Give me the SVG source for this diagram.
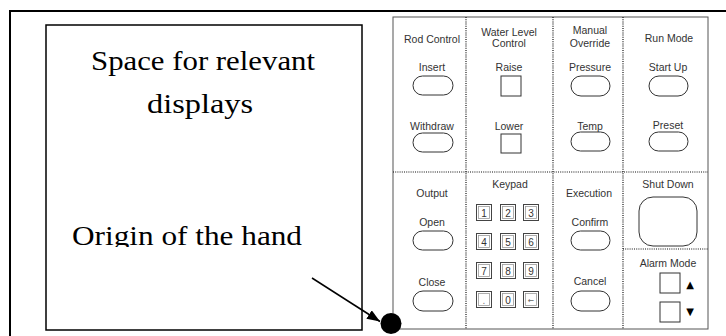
<svg xmlns="http://www.w3.org/2000/svg" width="726" height="336" viewBox="0 0 726 336">
<style>
.frame{fill:none;stroke:#000;stroke-width:2}
.box{fill:none;stroke:#000;stroke-width:1.5}
.panel{fill:#fff;stroke:#555;stroke-width:1}
.dot{stroke:#111;stroke-width:1.2;stroke-dasharray:1 1.2;fill:none}
.btn{fill:#fff;stroke:#333;stroke-width:1}
.lbl{font-family:"Liberation Sans",Arial,sans-serif;font-size:10.5px;fill:#333;text-anchor:middle}
.key{fill:#fff;stroke:#444;stroke-width:1}
.keyin{fill:none;stroke:#999;stroke-width:0.8}
.kl{font-family:"Liberation Sans",Arial,sans-serif;font-size:10px;fill:#333;text-anchor:middle}
.big{font-family:"Liberation Serif","Times New Roman",serif;font-size:28px;fill:#000}
.tri{font-family:"DejaVu Sans",sans-serif;font-size:10px;fill:#000;text-anchor:middle}
.conn{stroke:#000;stroke-width:1.5;fill:none}
</style>
<defs>
<marker id="ah" markerUnits="userSpaceOnUse" markerWidth="14" markerHeight="12" refX="13" refY="5" orient="auto">
<path d="M0,0 L13,5 L0,10 z" fill="#000"/>
</marker>
<clipPath id="clipOrigin"><rect x="0" y="0" width="400" height="247"/></clipPath>
</defs>
<rect width="726" height="336" fill="#fff"/>
<g id="outer-frame"><rect class="frame" x="10" y="11" width="730" height="340"/></g>
<g id="display-area">
<rect class="box" x="46" y="25" width="316" height="305"/>
<text class="big" x="91" y="69.5" textLength="224" lengthAdjust="spacingAndGlyphs">Space for relevant</text>
<text class="big" x="147" y="113" textLength="106" lengthAdjust="spacingAndGlyphs">displays</text>
<text class="big" x="72" y="245" textLength="230" lengthAdjust="spacingAndGlyphs" clip-path="url(#clipOrigin)">Origin of the hand</text>
</g>
<g id="panel">
<rect class="panel" x="393" y="17" width="315" height="312"/>
<line class="dot" x1="466" y1="17" x2="466" y2="329"/>
<line class="dot" x1="553" y1="17" x2="553" y2="329"/>
<line class="dot" x1="623" y1="17" x2="623" y2="329"/>
<line class="dot" x1="393" y1="172" x2="708" y2="172"/>
<line class="dot" x1="623" y1="249" x2="708" y2="249"/>
</g>
<g id="rod-control">
<text class="lbl" x="432" y="42.5">Rod Control</text>
<text class="lbl" x="432" y="70.5">Insert</text>
<rect class="btn" x="413" y="76" width="40" height="19" rx="9.5"/>
<text class="lbl" x="432" y="130">Withdraw</text>
<rect class="btn" x="413" y="133" width="40" height="19" rx="9.5"/>
</g>
<g id="water-level-control">
<text class="lbl" x="509" y="36">Water Level</text>
<text class="lbl" x="509" y="46.5">Control</text>
<text class="lbl" x="509" y="70.5">Raise</text>
<rect class="btn" x="501" y="76" width="20" height="20"/>
<text class="lbl" x="509" y="129.5">Lower</text>
<rect class="btn" x="501" y="134" width="20" height="19"/>
</g>
<g id="manual-override">
<text class="lbl" x="590" y="34">Manual</text>
<text class="lbl" x="590" y="46.5">Override</text>
<text class="lbl" x="590" y="70.5">Pressure</text>
<rect class="btn" x="571" y="76" width="39" height="20" rx="10"/>
<text class="lbl" x="590" y="129.5">Temp</text>
<rect class="btn" x="571" y="132" width="39" height="19" rx="9.5"/>
</g>
<g id="run-mode">
<text class="lbl" x="669" y="41.5">Run Mode</text>
<text class="lbl" x="668" y="70.5">Start Up</text>
<rect class="btn" x="649" y="76" width="39" height="20" rx="10"/>
<text class="lbl" x="668" y="129">Preset</text>
<rect class="btn" x="649" y="132" width="39" height="19" rx="9.5"/>
</g>
<g id="output">
<text class="lbl" x="432" y="197">Output</text>
<text class="lbl" x="432" y="226">Open</text>
<rect class="btn" x="413" y="231" width="40" height="19" rx="9.5"/>
<text class="lbl" x="432" y="285.5">Close</text>
<rect class="btn" x="413" y="291" width="40" height="20" rx="10"/>
</g>
<g id="keypad">
<text class="lbl" x="510" y="188">Keypad</text>
<rect class="key" x="476.5" y="204.5" width="15" height="16"/><rect class="keyin" x="478.5" y="206.5" width="11" height="12"/><text class="kl" x="484" y="216.5">1</text>
<rect class="key" x="500.5" y="204.5" width="15" height="16"/><rect class="keyin" x="502.5" y="206.5" width="11" height="12"/><text class="kl" x="508" y="216.5">2</text>
<rect class="key" x="523.5" y="204.5" width="15" height="16"/><rect class="keyin" x="525.5" y="206.5" width="11" height="12"/><text class="kl" x="531" y="216.5">3</text>
<rect class="key" x="476.5" y="233.5" width="15" height="16"/><rect class="keyin" x="478.5" y="235.5" width="11" height="12"/><text class="kl" x="484" y="245.5">4</text>
<rect class="key" x="500.5" y="233.5" width="15" height="16"/><rect class="keyin" x="502.5" y="235.5" width="11" height="12"/><text class="kl" x="508" y="245.5">5</text>
<rect class="key" x="523.5" y="233.5" width="15" height="16"/><rect class="keyin" x="525.5" y="235.5" width="11" height="12"/><text class="kl" x="531" y="245.5">6</text>
<rect class="key" x="476.5" y="262.5" width="15" height="16"/><rect class="keyin" x="478.5" y="264.5" width="11" height="12"/><text class="kl" x="484" y="274.5">7</text>
<rect class="key" x="500.5" y="262.5" width="15" height="16"/><rect class="keyin" x="502.5" y="264.5" width="11" height="12"/><text class="kl" x="508" y="274.5">8</text>
<rect class="key" x="523.5" y="262.5" width="15" height="16"/><rect class="keyin" x="525.5" y="264.5" width="11" height="12"/><text class="kl" x="531" y="274.5">9</text>
<rect class="key" x="476.5" y="291.5" width="15" height="16"/><rect class="keyin" x="478.5" y="293.5" width="11" height="12"/><text class="kl" x="484" y="303.5" style="fill:#777">.</text>
<rect class="key" x="500.5" y="291.5" width="15" height="16"/><rect class="keyin" x="502.5" y="293.5" width="11" height="12"/><text class="kl" x="508" y="303.5">0</text>
<rect class="key" x="523.5" y="291.5" width="15" height="16"/><rect class="keyin" x="525.5" y="293.5" width="11" height="12"/><text class="kl" x="531" y="302.5" style="font-family:'DejaVu Sans',sans-serif;font-size:7.5px;fill:#666">←</text>
</g>
<g id="execution">
<text class="lbl" x="589" y="197">Execution</text>
<text class="lbl" x="590" y="226">Confirm</text>
<rect class="btn" x="571" y="231" width="39" height="19" rx="9.5"/>
<text class="lbl" x="590" y="285">Cancel</text>
<rect class="btn" x="571" y="291" width="39" height="20" rx="10"/>
</g>
<g id="shut-down">
<text class="lbl" x="668" y="188">Shut Down</text>
<rect class="btn" x="639" y="197" width="58" height="49" rx="14"/>
</g>
<g id="alarm-mode">
<text class="lbl" x="668" y="266.5">Alarm Mode</text>
<rect class="btn" x="660" y="273" width="20" height="20"/>
<text class="tri" x="690" y="288">▲</text>
<rect class="btn" x="660" y="302" width="20" height="20"/>
<text class="tri" x="690" y="315">▼</text>
</g>
<g id="hand-origin"><circle cx="391" cy="323.5" r="10.5" fill="#000"/></g>
<g id="connectors">
<line class="conn" x1="312" y1="278" x2="380" y2="321.5" marker-end="url(#ah)"/>
</g>
</svg>
